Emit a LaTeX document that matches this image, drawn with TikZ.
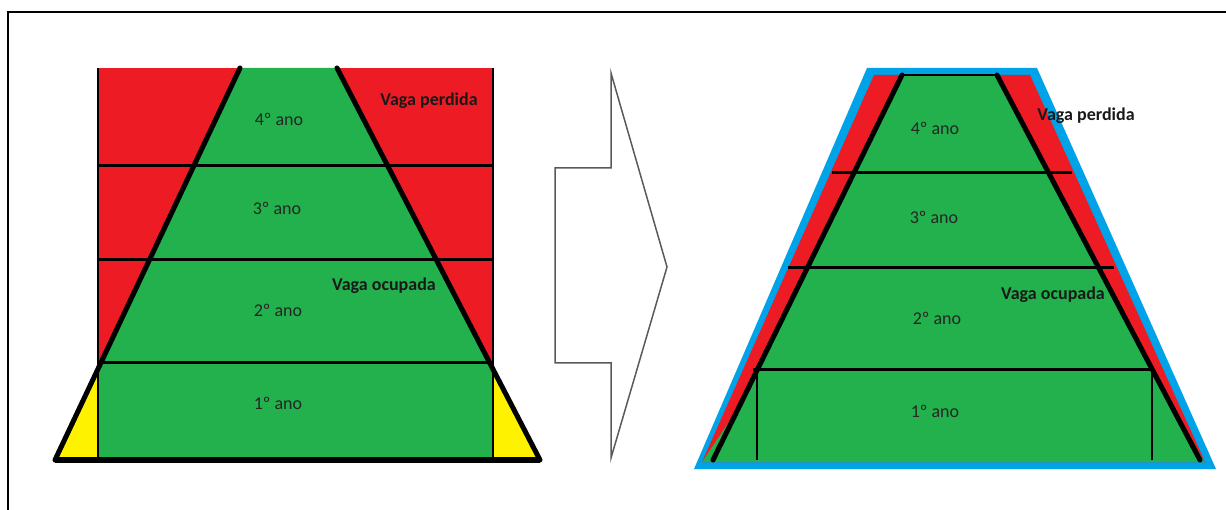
\documentclass[tikz,border=0pt]{standalone}
\usepackage{fontspec}
\setmainfont{Carlito}
\definecolor{pred}{HTML}{ED1C24}
\definecolor{pgreen}{HTML}{22B14C}
\definecolor{pyellow}{HTML}{FFF200}
\definecolor{pblue}{HTML}{00A2E8}
\definecolor{pgray}{HTML}{5A5A5A}
\tikzset{
  thickline/.style={line width=5pt, line cap=round},
  midline/.style={line width=3pt},
  thinline/.style={line width=2pt},
  anotext/.style={font=\fontsize{18}{20}\selectfont, text=black!85, inner sep=0pt},
  vagatext/.style={font=\bfseries\fontsize{18}{20}\selectfont, text=black!90, inner sep=0pt},
  frameline/.style={line width=1.5pt}
}
\begin{document}
\begin{tikzpicture}[x=1pt,y=-1pt]
\useasboundingbox (0,0) rectangle (1226,510);
% frame
\draw[frameline] (8,510) -- (8,12) -- (1226,12);

% ===== Left figure =====
\fill[pred] (98,68) rectangle (493,363);
\fill[pyellow] (55,460) -- (101,363) -- (490,363) -- (540,460) -- cycle;
\fill[pgreen] (240,68) -- (337,68) -- (490,363) -- (101,363) -- cycle;
\fill[pgreen] (98,363) rectangle (493,460);
\draw[thinline] (98,68) -- (98,460);
\draw[thinline] (493,68) -- (493,460);
\draw[midline] (98,166) -- (493,166);
\draw[midline] (98,260) -- (493,260);
\draw[midline] (98,363) -- (493,363);
\draw[thickline] (240,68) -- (55,460);
\draw[thickline] (337,68) -- (540,460);
\draw[line width=6pt] (55,460) -- (540,460);

\node[vagatext] (lvp) at (429,101) {Vaga perdida};
\node[vagatext] (lvo) at (384,286) {Vaga ocupada};
\node[anotext] (l4) at (279,119) {4º ano};
\node[anotext] (l3) at (277,208) {3º ano};
\node[anotext] (l2) at (278,310) {2º ano};
\node[anotext] (l1) at (278,403) {1º ano};

% ===== Arrow =====
\draw[pgray, line width=1.5pt, line join=miter]
  (611,73) -- (611,168) -- (555,168) -- (555,363) -- (611,363) -- (611,458) -- (667,267) -- cycle;

% ===== Right figure =====
\fill[pblue] (867,68) -- (1037,68) -- (1216,469) -- (694,469) -- cycle;
\fill[pred] (874,75) -- (1030,75) -- (1205,462) -- (702,462) -- cycle;
\fill[pgreen] (902,75) -- (997,75) -- (1181,425) -- (1205,462) -- (702,462) -- (737,410) -- cycle;
\draw[line width=1.5pt] (902,75) -- (997,75);
\draw[midline] (832,173) -- (1072,173);
\draw[midline] (788,268) -- (1114,268);
\draw[midline] (753,370) -- (1152,370);
\draw[thinline] (757,370) -- (757,460);
\draw[thinline] (1152,370) -- (1152,460);
\draw[thickline] (902,75) -- (713,460);
\draw[thickline] (997,75) -- (1200,460);

\node[vagatext] (rvp) at (1086,116) {Vaga perdida};
\node[vagatext] (rvo) at (1053,295) {Vaga ocupada};
\node[anotext] (r4) at (935,128) {4º ano};
\node[anotext] (r3) at (934,217) {3º ano};
\node[anotext] (r2) at (937,318) {2º ano};
\node[anotext] (r1) at (935,411) {1º ano};
\end{tikzpicture}
\end{document}
